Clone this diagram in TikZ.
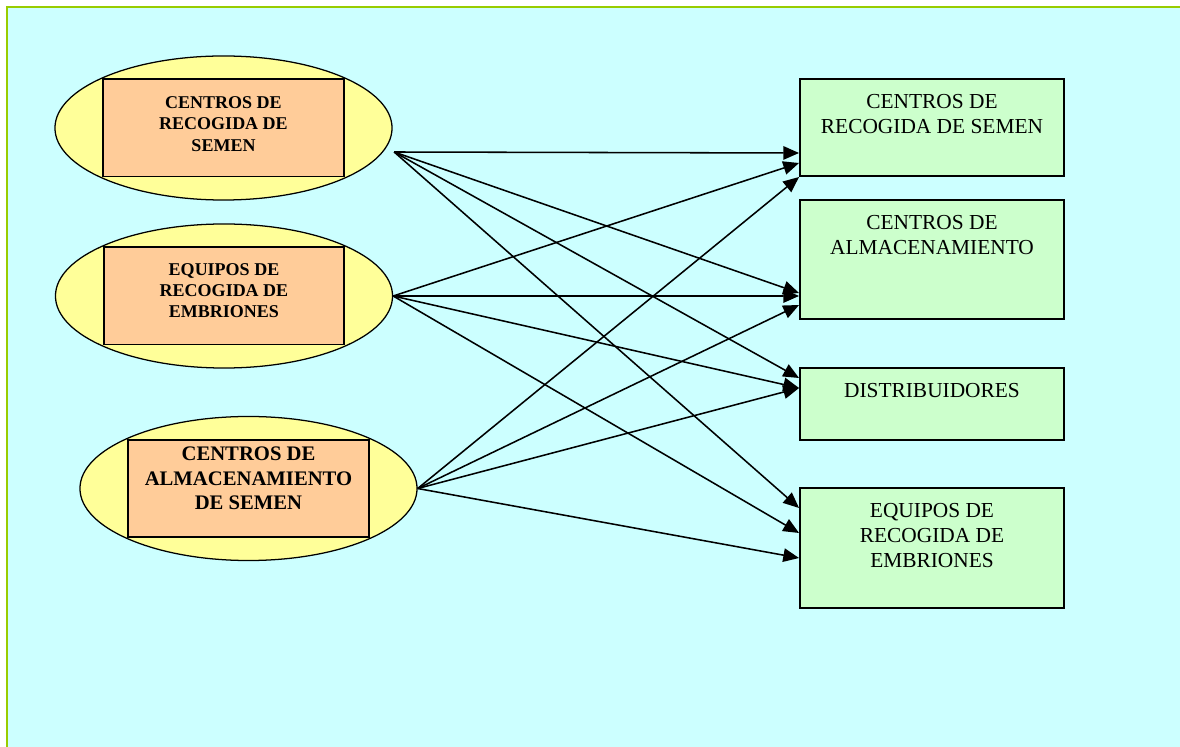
\documentclass[tikz,border=0pt]{standalone}
\usepackage{fontspec}
\setmainfont{Liberation Serif}
\usetikzlibrary{arrows.meta,calc,shapes.geometric}
\definecolor{Sky}{HTML}{CCFFFF}
\definecolor{Lime}{HTML}{99CC00}
\definecolor{Straw}{HTML}{FFFF99}
\definecolor{Peach}{HTML}{FFCC99}
\definecolor{Mint}{HTML}{CCFFCC}
\begin{document}
\begin{tikzpicture}[x=.025cm,y=-.025cm,
    oval/.style={ellipse,draw,fill=Straw,line width=.9pt,minimum width=8.425cm,minimum height=3.6cm,inner sep=0pt},
    inbox/.style={draw,fill=Peach,line width=1.4pt,minimum width=6cm,minimum height=2.425cm,inner sep=0pt},
    outbox/.style={draw,fill=Mint,line width=1.3pt,minimum width=6.6cm,inner sep=0pt},
    lbl/.style={anchor=north,align=center,inner sep=0pt},
    small/.style={lbl,font=\bfseries\fontsize{12.8}{15.2}\selectfont},
    big/.style={lbl,font=\bfseries\fontsize{14.7}{17.4}\selectfont},
    plain/.style={lbl,yshift=-.4cm,font=\fontsize{15.2}{17.6}\selectfont},
    link/.style={-{Triangle[length=11.2pt,width=9.6pt]},line width=1.1pt}]
  \useasboundingbox(0,0)rectangle(1180,747);
  \fill[white](0,0)rectangle(1180,747);
  \fill[Sky](7,7)rectangle(1180,747);
  \draw[Lime,line width=1.8pt](7,747)--(7,7)--(1180,7);
  \node[oval](e1)at(223.5,128){};
  \node[oval](e2)at(224,296){};
  \node[oval](e3)at(248.5,488.5){};
  \node[inbox,label={[small,yshift=-.44cm]north:{CENTROS DE\\RECOGIDA DE\\SEMEN}}](r1)at(e1){};
  \node[inbox,label={[small,yshift=-.41cm]north:{EQUIPOS DE\\RECOGIDA DE\\EMBRIONES}}](r2)at(e2){};
  \node[inbox,label={[big,yshift=-.19cm]north:{CENTROS DE\\ALMACENAMIENTO\\DE SEMEN}}](r3)at(e3){};
  \node[outbox,minimum height=2.425cm,label={[plain]north:{CENTROS DE\\RECOGIDA DE SEMEN}}](bA)at(932,127.5){};
  \node[outbox,minimum height=2.975cm,label={[plain]north:{CENTROS DE\\ALMACENAMIENTO}}](bB)at(932,259.5){};
  \node[outbox,minimum height=1.8cm,label={[plain]north:DISTRIBUIDORES}](bC)at(932,404){};
  \node[outbox,minimum height=3cm,label={[plain]north:{EQUIPOS DE\\RECOGIDA DE\\EMBRIONES}}](bD)at(932,548){};
  \coordinate(o1)at($(e1.east)+(1.5,24)$);
  \coordinate(o2)at(e2.east);
  \coordinate(o3)at(e3.east);
  \foreach \s/\t/\d in {o1/bA/25.5,o1/bB/33.5,o1/bC/-26,o1/bD/-40,
      o2/bA/35.5,o2/bB/36.5,o2/bC/-16,o2/bD/-15,
      o3/bA/49.5,o3/bB/45.5,o3/bC/-16,o3/bD/10}
    \draw[link](\s)--($(\t.west)+(0,\d)$);
\end{tikzpicture}
\end{document}
